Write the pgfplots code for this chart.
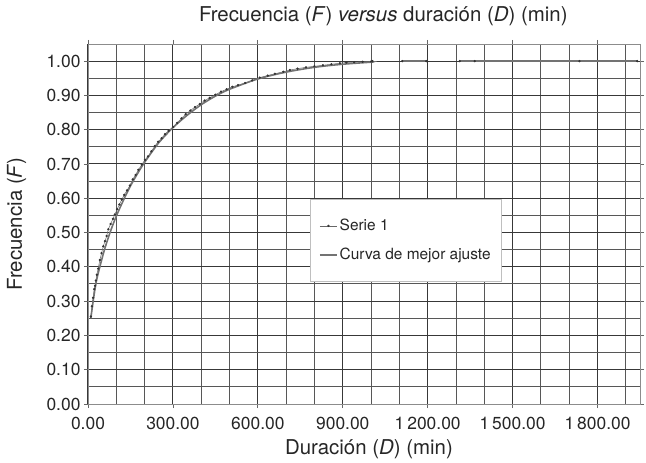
\documentclass[border=0pt]{standalone}
\usepackage{fontspec}
\setmainfont{TeX Gyre Heros}
\usepackage{pgfplots}
\pgfplotsset{compat=1.18}
\begin{document}
\begin{tikzpicture}
\begin{axis}[
 name=ax,
 scale only axis, width=552bp, height=360bp,
 xmin=0, xmax=1950, ymin=0, ymax=1.05,
 xtick={0,300,600,900,1200,1500,1800},
 minor xtick={100,200,400,500,700,800,1000,1100,1300,1400,1600,1700,1900},
 ytick={0,0.1,0.2,0.3,0.4,0.5,0.6,0.7,0.8,0.9,1.0},
 minor ytick={0.05,0.15,0.25,0.35,0.45,0.55,0.65,0.75,0.85,0.95},
 grid=both,
 major grid style={black!78, line width=1bp},
 minor grid style={black!66, line width=1bp},
 tick align=outside, major tick length=4bp, minor tick length=0pt,
 tick style={black!60, line width=0.8bp},
 axis line style={black!45, line width=0.8bp},
 x tick label style={/pgf/number format/.cd, fixed, fixed zerofill, precision=2, 1000 sep={\,}, /tikz/.cd, yshift=-6bp},
 y tick label style={/pgf/number format/.cd, fixed, fixed zerofill, precision=2, /tikz/.cd},
 /pgf/number format/assume math mode=true,
 ticklabel style={font=\fontsize{17.5}{20}\selectfont, text=black!85},
 title={Frecuencia (\textit{F}) \textit{versus} duración (\textit{D}) (min)},
 title style={font=\fontsize{20.5}{24}\selectfont, text=black!85, at={(axis description cs:0.535,1)}, anchor=base, yshift=17bp},
 xlabel={Duración (\textit{D}) (min)},
 ylabel={Frecuencia (\textit{F})},
 label style={font=\fontsize{20.5}{24}\selectfont, text=black!85},
 xlabel style={at={(axis description cs:0.509,-0.139)}, anchor=base},
 ylabel style={at={(axis description cs:-0.1196,0.5)}, anchor=base},
 legend cell align=left,
 legend style={at={(0.402,0.569)}, anchor=north west, draw=black!25, fill=white,
   font=\fontsize{15.5}{18}\selectfont, text=black!85, inner xsep=9bp, inner ysep=18bp, row sep=12bp},
 unbounded coords=jump,
]
\addplot[black!60, line width=0.5bp, mark=*, mark size=0.9bp, mark options={black!80, fill=black!80}] coordinates {
(10,0.255) (14,0.285) (18,0.31) (22,0.335) (25,0.345) (28,0.36) (31,0.377) (36,0.395)
(42,0.42) (48,0.44) (54,0.46) (60,0.475) (66,0.49) (72,0.51) (80,0.525) (88,0.54)
(95,0.553) (103,0.568) (111,0.582) (119,0.596) (128,0.61) (138,0.623) (148,0.637)
(158,0.655) (168,0.668) (178,0.683) (190,0.698) (201,0.712) (212,0.722) (224,0.737)
(236,0.752) (248,0.765) (260,0.775) (272,0.787) (285,0.797) (301,0.808) (315,0.82)
(330,0.833) (345,0.845) (362,0.856) (378,0.866) (395,0.875) (412,0.885) (430,0.893)
(450,0.902) (470,0.911) (490,0.918) (510,0.925) (530,0.93) (555,0.936) (580,0.944)
(607,0.952) (635,0.958) (660,0.963) (690,0.969) (713,0.974) (740,0.978) (770,0.982)
(800,0.985) (830,0.988) (860,0.991) (890,0.994) (913,0.996) (940,0.997) (970,0.998)
(1000,0.999) (1005,1.0) (1050,nan) (1110,1.0) (1195,1.0) (1250,nan) (1313,1.0) (1366,1.0) (1736,1.0) (1940,1.0)
};
\addlegendentry{Serie 1}
\addplot[black!55, line width=1.6bp, smooth] coordinates {
(10,0.25) (20,0.31) (30,0.36) (45,0.41) (60,0.455) (80,0.505) (100,0.548) (125,0.594)
(150,0.636) (175,0.672) (200,0.705) (250,0.762) (300,0.806) (350,0.842) (400,0.873)
(450,0.898) (500,0.918) (600,0.948) (700,0.968) (800,0.982) (900,0.991) (1000,0.997) (1005,0.998)
};
\addlegendentry{Curva de mejor ajuste\hspace{12bp}}
\addplot[black!55, line width=1.6bp, forget plot] coordinates {
(1110,1.0) (1195,1.0) (1250,nan) (1313,1.0) (1940,1.0)
};
\end{axis}
\pgfresetboundingbox
\path ([xshift=-88bp,yshift=-59bp]ax.south west) rectangle ([xshift=6bp,yshift=44bp]ax.north east);
\end{tikzpicture}
\end{document}
